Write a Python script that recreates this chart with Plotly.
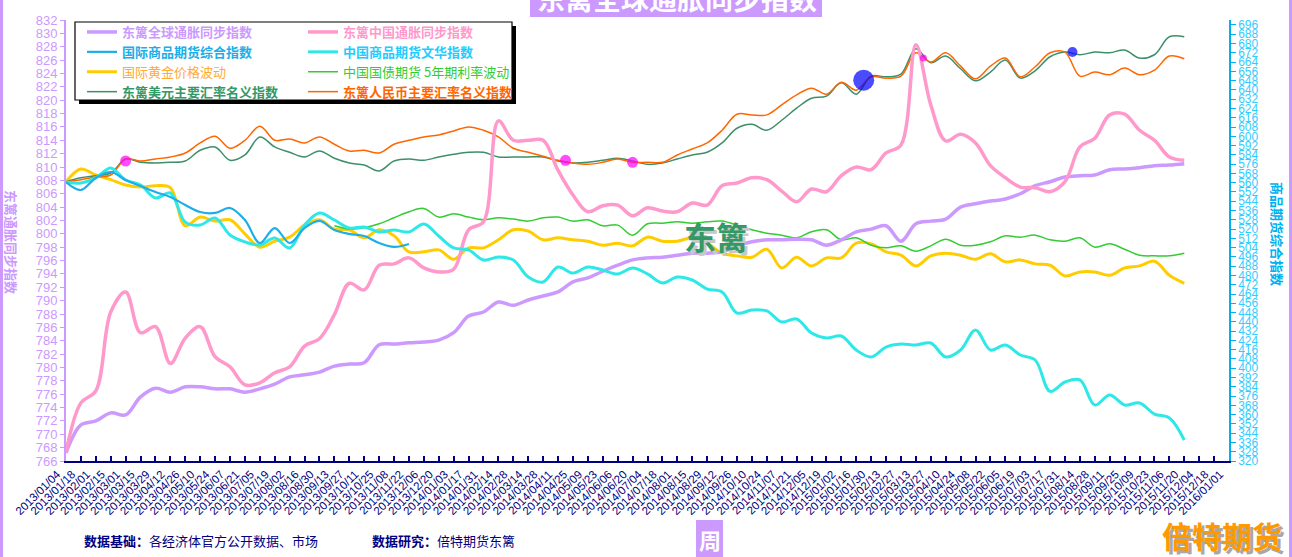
import pandas as pd
import plotly.graph_objects as go

# ---------------- data ----------------
start_date = "2013-01-04"
end_date = "2016-01-01"
dates = pd.date_range(start_date, periods=76, freq="14D")

tick_format = "%Y/%m/%d"

global_infl = [767.2, 771.4, 772.0, 773.2, 772.9, 775.6, 776.9, 776.3, 777.1, 777.1,
               776.8, 776.8, 776.3, 776.8, 777.5, 778.6, 778.9, 779.3, 780.2, 780.5,
               780.7, 783.4, 783.5, 783.7, 783.8, 784.1, 785.2, 787.7, 788.3, 789.8,
               789.3, 790.1, 790.7, 791.3, 792.8, 793.4, 794.4, 795.3, 796.1, 796.4,
               796.5, 796.8, 797.1, 797.1, 797.3, 798.2, 798.8, 799.1, 799.1, 799.2,
               799.1, 798.3, 799.1, 800.3, 800.7, 801.2, 798.9, 801.5, 801.9, 802.2,
               804.0, 804.5, 804.9, 805.2, 806.0, 807.2, 807.8, 808.5, 808.7, 808.8,
               809.6, 809.7, 809.9, 810.2, 810.3, 810.5]

china_infl = [767.3, 774.7, 776.5, 788.3, 791.3, 785.2, 786.1, 780.6, 784.4, 786.1,
              781.6, 780.1, 777.4, 777.7, 779.2, 780.1, 783.2, 784.3, 787.9, 792.6,
              791.6, 795.3, 795.5, 796.4, 794.9, 794.3, 794.7, 800.6, 801.8, 816.9,
              814.0, 814.0, 814.0, 809.5, 805.8, 803.3, 804.2, 804.3, 802.7, 803.9,
              803.4, 803.3, 804.6, 804.3, 807.2, 807.6, 808.4, 808.1, 806.4, 804.8,
              806.7, 806.3, 808.7, 810.0, 809.6, 812.1, 813.3, 828.3, 819.3, 813.9,
              814.9, 813.6, 810.2, 808.4, 807.0, 806.9, 806.3, 807.8, 813.0, 814.3,
              817.8, 817.9, 815.5, 814.0, 811.5, 811.0]

intl_commodity = [560.6, 553.7, 564.1, 569.2, 562.3, 557.2, 552.0, 547.7, 540.8, 534.7,
                  533.9, 538.2, 527.8, 508.0, 520.9, 508.0, 520.9, 527.0, 519.2, 515.8,
                  514.0, 508.0, 504.6, 507.1]

china_wenhua = [560.6, 559.7, 564.1, 572.7, 562.3, 558.0, 546.8, 551.1, 526.0, 523.5,
                529.6, 514.9, 508.9, 506.3, 512.3, 503.7, 523.5, 533.9, 527.8, 520.9,
                521.8, 517.5, 519.2, 517.5, 524.4, 514.0, 503.7, 502.0, 493.3, 495.9,
                493.3, 478.7, 474.4, 487.3, 482.1, 487.3, 484.7, 481.3, 486.4, 481.3,
                473.5, 478.7, 476.1, 468.3, 465.7, 447.6, 450.2, 449.4, 439.9, 442.5,
                430.4, 426.1, 427.8, 415.7, 409.7, 418.3, 420.9, 420.0, 421.8, 409.7,
                415.7, 433.0, 415.7, 420.0, 411.4, 407.1, 380.0, 388.1, 389.9, 368.3,
                376.9, 368.3, 370.0, 360.5, 357.1, 338.1]

gold = [807.8, 809.7, 808.8, 808.1, 807.3, 807.0, 807.2, 806.9, 801.2, 802.5,
        801.9, 802.1, 800.0, 798.0, 798.9, 799.5, 801.3, 802.1, 800.7, 800.6,
        799.4, 800.6, 799.7, 797.3, 797.3, 797.6, 796.2, 797.9, 797.9, 799.1,
        800.6, 800.4, 799.1, 799.4, 799.1, 798.9, 798.3, 798.6, 798.2, 799.5,
        798.9, 798.9, 799.4, 798.6, 797.1, 796.7, 796.5, 797.7, 794.9, 796.5,
        795.2, 796.4, 796.4, 798.6, 798.5, 797.3, 796.8, 795.2, 796.7, 797.1,
        796.8, 796.2, 797.0, 795.8, 796.1, 795.5, 795.3, 793.7, 794.3, 794.3,
        793.8, 794.9, 795.2, 795.9, 793.8, 792.6]

bond_start = 18  # bond futures series begins later
bond_5y = [801.2, 800.7, 800.9, 801.5, 802.4, 803.3, 803.8, 802.5, 803.0, 802.5,
           802.1, 802.4, 802.2, 801.9, 802.4, 802.5, 801.9, 802.1, 801.2, 801.3,
           799.8, 801.5, 801.6, 801.8, 801.6, 801.8, 801.9, 801.3, 800.6, 800.1,
           799.8, 799.4, 800.3, 800.6, 799.1, 799.4, 798.3, 797.9, 798.2, 797.4,
           798.2, 799.2, 798.3, 798.3, 798.8, 799.7, 799.5, 799.8, 799.1, 798.9,
           799.4, 798.0, 798.5, 797.7, 796.8, 796.7, 796.7, 797.1]

usd_index = [807.8, 808.4, 808.7, 809.1, 811.2, 810.7, 810.6, 810.7, 810.9, 812.5,
             813.0, 811.0, 811.8, 814.5, 813.0, 812.2, 811.5, 812.4, 811.3, 810.6,
             810.3, 809.4, 810.9, 811.2, 811.0, 811.5, 811.9, 812.2, 812.2, 811.5,
             811.5, 811.5, 811.5, 810.9, 810.6, 810.7, 811.0, 811.3, 810.9, 810.4,
             810.6, 811.2, 811.8, 812.2, 813.6, 815.8, 816.4, 815.5, 817.0, 818.8,
             820.3, 820.6, 822.6, 820.9, 823.6, 823.5, 823.9, 827.7, 825.6, 826.6,
             824.7, 822.9, 824.2, 826.0, 823.3, 824.4, 826.5, 827.2, 826.8, 827.2,
             827.1, 827.5, 826.3, 826.8, 829.5, 829.5]

cny_index = [807.8, 808.1, 808.5, 808.8, 811.2, 810.9, 811.2, 811.5, 812.1, 813.6,
             814.6, 812.8, 814.0, 816.1, 814.0, 814.2, 813.6, 814.5, 813.4, 812.4,
             812.5, 812.1, 813.4, 814.0, 814.5, 814.8, 815.4, 816.0, 815.5, 814.5,
             812.8, 812.2, 811.6, 811.0, 810.6, 810.4, 810.7, 811.2, 810.7, 810.7,
             810.7, 811.8, 812.7, 813.6, 815.5, 817.9, 817.8, 817.8, 819.3, 820.8,
             821.8, 820.9, 822.7, 821.5, 823.5, 823.3, 823.6, 827.1, 825.7, 827.1,
             825.1, 823.2, 825.1, 826.3, 823.5, 825.0, 827.1, 827.2, 823.6, 824.2,
             823.8, 824.8, 823.8, 824.5, 826.6, 826.2]

marker_dates = ["2013-03-01", "2014-04-18", "2014-06-20", "2015-01-23", "2015-03-20", "2015-08-07"]
marker_values = [810.9, 811.0, 810.7, 823.0, 826.3, 827.2]

# ---------------- styles ----------------
marker_colors = ["#FF00FF", "#FF00FF", "#FF00FF", "#0000FF", "#FF00FF", "#0000FF"]
marker_sizes = [11, 11, 11, 21, 7, 10]

CJK = "Noto Sans CJK SC"
LAT = "Liberation Sans, Arial, sans-serif"

L, R, T, B = 66, 63, 20, 96
W, H = 1292, 557
PW, PH = W - L - R, H - T - B


def px(x):
    return (x - L) / PW


def py(y):
    return (T + PH - y) / PH


fig = go.Figure()


def add_line(name, vals, color, width, legend, rank, offset=0, yaxis="y",
             bold=True, textcolor=None):
    label = f"<b>{name}</b>" if bold else name
    label = f'<span style="color:{textcolor or color}">{label}</span>'
    fig.add_trace(go.Scatter(
        x=dates[offset:offset + len(vals)], y=vals, name=label, mode="lines",
        line=dict(color=color, width=width, shape="spline", smoothing=1.0),
        yaxis=yaxis, legend=legend, legendrank=rank, hoverinfo="skip"))


add_line("中国商品期货文华指数", china_wenhua, "#2EE8E8", 3, "legend2", 2, yaxis="y2", textcolor="#22CCFF")
add_line("国际商品期货综合指数", intl_commodity, "#1CAEE8", 2.2, "legend", 2, yaxis="y2")
add_line("国际黄金价格波动", gold, "#FFCC00", 3, "legend", 3, bold=False, textcolor="#FFAA33")
add_line("中国国债期货 5年期利率波动", bond_5y, "#33CC33", 1.5, "legend2", 3, offset=bond_start, bold=False)
add_line("东篱美元主要汇率名义指数", usd_index, "#3D8F6A", 1.5, "legend", 4, textcolor="#339966")
add_line("东篱人民币主要汇率名义指数", cny_index, "#FF6600", 1.5, "legend2", 4)
add_line("东篱全球通胀同步指数", global_infl, "#CC99FF", 3.5, "legend", 1)
add_line("东篱中国通胀同步指数", china_infl, "#FF99CC", 3.5, "legend2", 1)

fig.add_trace(go.Scatter(
    x=marker_dates, y=marker_values, mode="markers", showlegend=False, hoverinfo="skip",
    marker=dict(color=marker_colors, size=marker_sizes, line=dict(width=0))))

shapes = [
    # outer purple borders
    dict(type="line", xref="paper", yref="paper", x0=px(1.5), x1=px(1.5), y0=py(0), y1=py(H),
         line=dict(color="#CC99FF", width=3)),
    dict(type="line", xref="paper", yref="paper", x0=px(1290.5), x1=px(1290.5), y0=py(0), y1=py(H),
         line=dict(color="#CC99FF", width=3)),
    # title box
    dict(type="rect", xref="paper", yref="paper", x0=px(530), x1=px(822), y0=py(17), y1=py(-6),
         fillcolor="#CC99FF", line=dict(width=0), layer="above"),
    # x title box
    dict(type="rect", xref="paper", yref="paper", x0=px(696), x1=px(723), y0=py(520), y1=py(H + 4),
         fillcolor="#CC99FF", line=dict(width=0), layer="above"),
    # legend shadow + box
    dict(type="rect", xref="paper", yref="paper", x0=px(79), x1=px(516), y0=py(104), y1=py(26),
         fillcolor="#000000", line=dict(width=0), layer="above"),
    dict(type="rect", xref="paper", yref="paper", x0=px(75), x1=px(512), y0=py(100), y1=py(22),
         fillcolor="#FFFFFF", line=dict(color="#000000", width=1.2), layer="above"),
]

annotations = [
    dict(text="<b>东篱全球通胀同步指数</b>", x=px(677), y=py(-2), font=dict(family=CJK, size=28, color="#FFFFFF")),
    dict(text="<b>东篱通胀同步指数</b>", x=px(12), y=py(242), textangle=90,
         font=dict(family=CJK, size=13, color="#CC99FF")),
    dict(text="<b>商品期货综合指数</b>", x=px(1278), y=py(234), textangle=90,
         font=dict(family=CJK, size=13, color="#00B0F0")),
    dict(text="<b>周</b>", x=px(709.5), y=py(539), font=dict(family=CJK, size=22, color="#FFFFFF")),
    dict(text="<b>数据基础：</b>各经济体官方公开数据、市场", x=px(82), y=py(540), xanchor="left",
         font=dict(family=CJK, size=13, color="#000080")),
    dict(text="<b>数据研究：</b>倍特期货东篱", x=px(370), y=py(540), xanchor="left",
         font=dict(family=CJK, size=13, color="#000080")),
    dict(text="<b>倍特期货</b>", x=px(1225), y=py(538), font=dict(family=CJK, size=30, color="#A8A8A8")),
    dict(text="<b>倍特期货</b>", x=px(1222), y=py(535), font=dict(family=CJK, size=30, color="#FF9900")),
    dict(text="<b>东篱</b>", x=px(719), y=py(239), font=dict(family=CJK, size=32, color="#C8C8C8")),
    dict(text="<b>东篱</b>", x=px(716), y=py(236), font=dict(family=CJK, size=32, color="#339966")),
]
for a in annotations:
    a.setdefault("xref", "paper")
    a.setdefault("yref", "paper")
    a.setdefault("showarrow", False)
    a.setdefault("xanchor", "center")
    a.setdefault("yanchor", "middle")

legend_common = dict(xanchor="left", yanchor="top", bgcolor="rgba(0,0,0,0)", borderwidth=0,
                     font=dict(family=CJK, size=13), itemwidth=30, orientation="v",
                     traceorder="normal", tracegroupgap=0)

fig.update_layout(
    width=W, height=H,
    margin=dict(l=L, r=R, t=T, b=B, pad=0),
    paper_bgcolor="#FFFFFF", plot_bgcolor="#FFFFFF",
    showlegend=True,
    legend=dict(x=px(82), y=py(17), **legend_common),
    legend2=dict(x=px(303), y=py(17), **legend_common),
    xaxis=dict(type="date", range=[start_date, end_date], tick0=start_date, dtick=14 * 86400000,
               tickformat=tick_format, tickangle=-45, ticklabelshift=-9,
               tickfont=dict(family=LAT, size=11.5, color="#000080"),
               showline=True, linecolor="#000080", linewidth=2, ticks="inside", ticklen=5,
               tickcolor="#000080", tickwidth=1.5, showgrid=False, zeroline=False),
    yaxis=dict(range=[766, 832], tick0=766, dtick=2, showline=True, linecolor="#CC99FF", linewidth=2,
               ticks="outside", ticklen=4, tickcolor="#CC99FF",
               tickfont=dict(family=LAT, size=13, color="#CC99FF"),
               showgrid=False, zeroline=False),
    yaxis2=dict(range=[320, 700.3], tick0=320, dtick=8, overlaying="y", side="right",
                showline=True, linecolor="#00B0F0", linewidth=1.5,
                ticks="outside", ticklen=5, tickcolor="#00B0F0",
                tickfont=dict(family=LAT, size=12, color="#33CCFF"),
                showgrid=False, zeroline=False),
    shapes=shapes,
    annotations=annotations,
)

fig.write_html("out.html", config={"displayModeBar": False},
               post_script="document.body.style.margin='0px';")
